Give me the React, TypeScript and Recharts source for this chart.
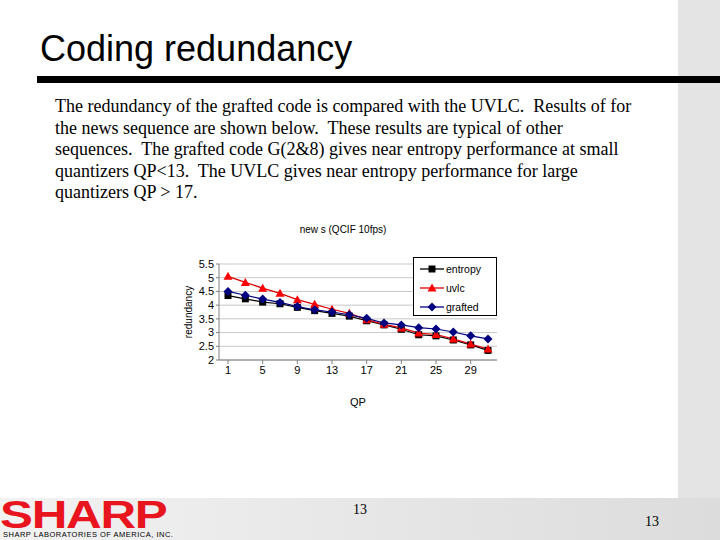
import React from "react";
import {
    LineChart,
    Line,
    XAxis,
    YAxis,
    CartesianGrid,
    Label,
} from "recharts";

const qp = [1, 3, 5, 7, 9, 11, 13, 15, 17, 19, 21, 23, 25, 27, 29, 31];
const entropy = [4.35, 4.23, 4.11, 4.05, 3.92, 3.8, 3.7, 3.6, 3.43, 3.28, 3.12, 2.92, 2.88, 2.73, 2.55, 2.35];
const uvlc = [5.05, 4.83, 4.62, 4.43, 4.2, 4.03, 3.85, 3.7, 3.47, 3.3, 3.17, 2.98, 2.93, 2.77, 2.58, 2.4];
const grafted = [4.5, 4.36, 4.22, 4.1, 3.95, 3.83, 3.75, 3.65, 3.52, 3.35, 3.28, 3.18, 3.13, 3.02, 2.88, 2.77];
const yTicks = [2, 2.5, 3, 3.5, 4, 4.5, 5, 5.5];

const bodyLines = [
    "The redundancy of the grafted code is compared with the UVLC.  Results of for",
    "the news sequence are shown below.  These results are typical of other",
    "sequences.  The grafted code G(2&8) gives near entropy performance at small",
    "quantizers QP<13.  The UVLC gives near entropy performance for large",
    "quantizers QP > 17.",
];

const data = qp.map((q, i) => ({
    qp: q,
    entropy: entropy[i],
    uvlc: uvlc[i],
    grafted: grafted[i],
}));

const SANS = "Liberation Sans, Arial, sans-serif";
const SERIF = "Liberation Serif, Times New Roman, serif";

const SERIES = [
    { key: "entropy", line: "#000000", fill: "#000000", shape: "square" },
    { key: "uvlc", line: "#e00000", fill: "#ff0000", shape: "triangle" },
    { key: "grafted", line: "#000080", fill: "#000080", shape: "diamond" },
];

const marker = (shape: string, x: number, y: number, fill: string, key?: any) => {
    if (shape === "square") {
        return <rect key={key} x={x - 3.5} y={y - 3.5} width={7} height={7} fill={fill} />;
    }
    if (shape === "triangle") {
        return (
            <polygon
                key={key}
                points={`${x},${y - 4.5} ${x + 4.5},${y + 3.5} ${x - 4.5},${y + 3.5}`}
                fill={fill}
            />
        );
    }
    return (
        <polygon
            key={key}
            points={`${x},${y - 4.5} ${x + 4.5},${y} ${x},${y + 4.5} ${x - 4.5},${y}`}
            fill={fill}
        />
    );
};

const makeDot = (shape: string, fill: string) => (props: any) => {
    const { cx, cy, index } = props;
    if (cx == null || cy == null) return <g key={index} />;
    return marker(shape, cx, cy, fill, index);
};

const LegendBox = () => (
    <div
        style={{
            position: "absolute",
            left: 243,
            top: 42,
            border: "1px solid #000",
            background: "#fff",
            width: 84,
            height: 59,
            boxSizing: "border-box",
            padding: "1px 0 0 6px",
            fontFamily: SANS,
            fontSize: 10.5,
        }}
    >
        {SERIES.map((s) => (
            <div key={s.key} style={{ display: "flex", alignItems: "center", height: 19 }}>
                <svg width={24} height={10} style={{ marginRight: 2 }}>
                    <line x1={0} y1={5} x2={24} y2={5} stroke={s.line} strokeWidth={1.3} />
                    {marker(s.shape, 12, 5, s.fill)}
                </svg>
                <span>{s.key}</span>
            </div>
        ))}
    </div>
);

function NewsChart() {
    return (
        <div style={{ position: "relative", width: 340, height: 200 }}>
            <LineChart
                width={340}
                height={200}
                data={data}
                margin={{ top: 49, right: 13, bottom: 25, left: 19 }}
                style={{ fontFamily: SANS }}
            >
                <CartesianGrid horizontal vertical={false} stroke="#c8c8c8" />
                <XAxis
                    dataKey="qp"
                    interval={1}
                    padding={{ left: 9, right: 9 }}
                    stroke="#808080"
                    tick={{ fill: "#000", fontSize: 11 }}
                    tickSize={4}
                    height={30}
                >
                    <Label value="QP" position="insideBottom" offset={-16} fill="#000" fontSize={11} />
                </XAxis>
                <YAxis
                    domain={[2, 5.5]}
                    ticks={yTicks}
                    width={30}
                    stroke="#808080"
                    tick={{ fill: "#000", fontSize: 11 }}
                    tickSize={3}
                    interval={0}
                >
                    <Label
                        value="redundancy"
                        angle={-90}
                        position="insideLeft"
                        offset={-1}
                        style={{ textAnchor: "middle" }}
                        fill="#000"
                        fontSize={10}
                    />
                </YAxis>
                {SERIES.map((s) => (
                    <Line
                        key={s.key}
                        dataKey={s.key}
                        stroke={s.line}
                        strokeWidth={1.2}
                        dot={makeDot(s.shape, s.fill)}
                        activeDot={false}
                        isAnimationActive={false}
                    />
                ))}
            </LineChart>
            <LegendBox />
        </div>
    );
}

export default function App() {
    return (
        <div
            style={{
                position: "absolute",
                left: 0,
                top: 0,
                width: 720,
                height: 540,
                background: "#fff",
                overflow: "hidden",
            }}
        >
            <div style={{ position: "absolute", left: 678, top: 0, width: 42, height: 540, background: "#e4e4e4" }} />
            <div
                style={{
                    position: "absolute",
                    left: 0,
                    top: 498,
                    width: 720,
                    height: 42,
                    background: "linear-gradient(to right, #f2f2f2, #dcdcdc)",
                }}
            />
            <div
                style={{
                    position: "absolute",
                    left: 40,
                    top: 28,
                    fontFamily: SANS,
                    fontSize: 36,
                    color: "#000",
                    whiteSpace: "nowrap",
                }}
            >
                Coding redundancy
            </div>
            <div style={{ position: "absolute", left: 37, top: 76, width: 683, height: 7, background: "#000" }} />
            <div
                style={{
                    position: "absolute",
                    left: 55,
                    top: 96,
                    fontFamily: SERIF,
                    fontSize: 18,
                    lineHeight: "21.5px",
                    color: "#000",
                    whiteSpace: "pre",
                }}
            >
                {bodyLines.map((l, i) => (
                    <div key={i}>{l}</div>
                ))}
            </div>
            <div
                style={{
                    position: "absolute",
                    left: 270,
                    top: 224,
                    width: 146,
                    textAlign: "center",
                    fontFamily: SANS,
                    fontSize: 10,
                    color: "#000",
                }}
            >
                new s (QCIF 10fps)
            </div>
            <div style={{ position: "absolute", left: 170, top: 215 }}>
                <NewsChart />
            </div>
            <div
                style={{
                    position: "absolute",
                    left: 0,
                    top: 501,
                    fontFamily: SANS,
                    fontWeight: 900,
                    fontSize: 38,
                    lineHeight: "28px",
                    letterSpacing: -1,
                    color: "#e8141e",
                    transform: "scaleX(1.3)",
                    transformOrigin: "left",
                }}
            >
                SHARP
            </div>
            <div
                style={{
                    position: "absolute",
                    left: 3,
                    top: 530,
                    fontFamily: SANS,
                    fontSize: 7.5,
                    lineHeight: "9px",
                    letterSpacing: 0.5,
                    color: "#000",
                    whiteSpace: "nowrap",
                }}
            >
                SHARP LABORATORIES OF AMERICA, INC.
            </div>
            <div
                style={{
                    position: "absolute",
                    left: 353,
                    top: 502,
                    fontFamily: SERIF,
                    fontSize: 14,
                    color: "#000",
                }}
            >
                13
            </div>
            <div
                style={{
                    position: "absolute",
                    left: 645,
                    top: 514,
                    fontFamily: SERIF,
                    fontSize: 14,
                    color: "#000",
                }}
            >
                13
            </div>
        </div>
    );
}
